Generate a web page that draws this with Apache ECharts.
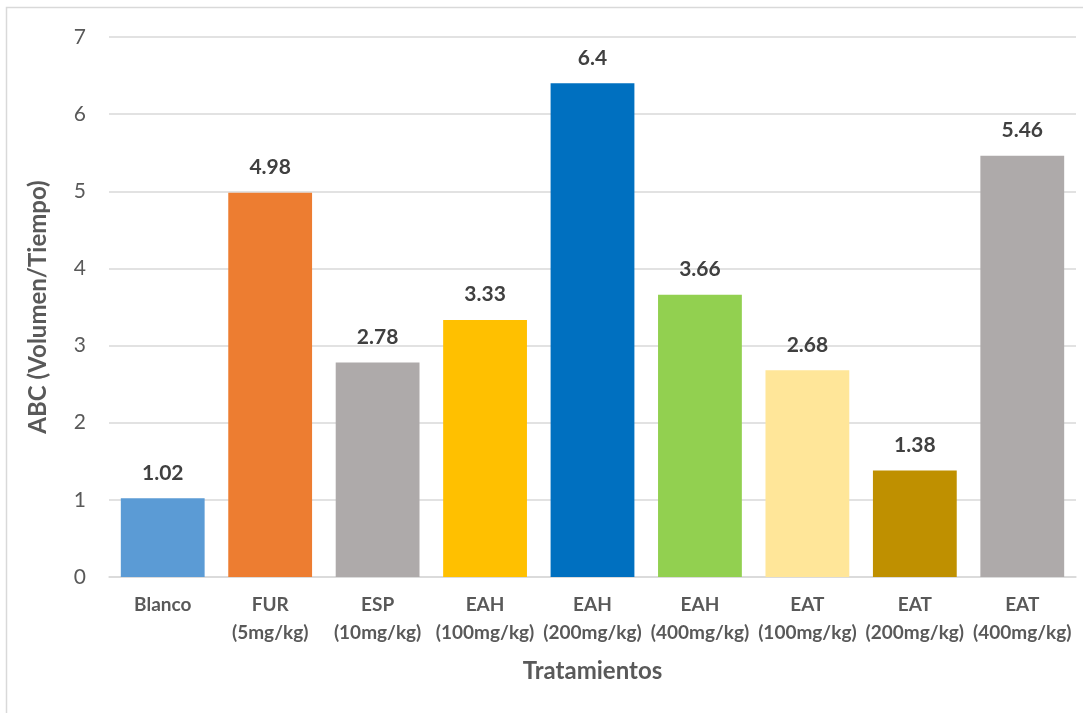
<!DOCTYPE html>
<html>
<head>
<meta charset="utf-8">
<script src="https://cdn.jsdelivr.net/npm/echarts@6/dist/echarts.min.js"></script>
<style>
  html, body { margin: 0; padding: 0; background: #fff; }
  #chart { width: 1083px; height: 713px; }
</style>
</head>
<body>
<div id="chart"></div>
<script>
// Treatments along the x axis
const categories = [
  'Blanco\n ',
  'FUR\n(5mg/kg)',
  'ESP\n(10mg/kg)',
  'EAH\n(100mg/kg)',
  'EAH\n(200mg/kg)',
  'EAH\n(400mg/kg)',
  'EAT\n(100mg/kg)',
  'EAT\n(200mg/kg)',
  'EAT\n(400mg/kg)'
];
// Area under the curve per treatment
const values = [1.02, 4.98, 2.78, 3.33, 6.4, 3.66, 2.68, 1.38, 5.46];
// Fill colour of each bar
const barColors = ['#5B9BD5', '#ED7D31', '#AEAAAA', '#FFC000', '#0070C0', '#92D050', '#FFE699', '#BF9000', '#AEAAAA'];
const yTicks = [0, 1, 2, 3, 4, 5, 6, 7];

const FONT = 'Lato, "Open Sans", sans-serif';
const chart = echarts.init(document.getElementById('chart'));

chart.setOption({
  animation: false,
  backgroundColor: '#ffffff',
  graphic: [{
    type: 'rect',
    shape: { x: 6.5, y: 7.5, width: 1100, height: 800 },
    style: { fill: 'none', stroke: '#D9D9D9', lineWidth: 1.5 },
    silent: true
  }],
  grid: { left: 109, right: 7, top: 37, bottom: 136 },
  xAxis: {
    type: 'category',
    data: categories,
    name: 'Tratamientos',
    nameLocation: 'middle',
    nameGap: 82,
    nameTextStyle: { fontFamily: FONT, fontSize: 24, fontWeight: 'bold', color: '#595959' },
    axisLine: { lineStyle: { color: '#D9D9D9', width: 1.5 } },
    axisTick: { show: false },
    axisLabel: {
      interval: 0,
      margin: 14,
      fontFamily: FONT,
      fontSize: 19,
      fontWeight: 'bold',
      color: '#595959',
      lineHeight: 28
    }
  },
  yAxis: {
    type: 'value',
    min: 0,
    max: yTicks[yTicks.length - 1],
    interval: 1,
    name: 'ABC (Volumen/Tiempo)',
    nameLocation: 'middle',
    nameGap: 59,
    nameTextStyle: { fontFamily: FONT, fontSize: 24, fontWeight: 'bold', color: '#595959' },
    axisLine: { show: false },
    axisTick: { show: false },
    axisLabel: { margin: 23, fontFamily: FONT, fontSize: 21, color: '#595959' },
    splitLine: { lineStyle: { color: '#D9D9D9', width: 1.5 } }
  },
  series: [{
    type: 'bar',
    data: values.map((v, i) => ({ value: v, itemStyle: { color: barColors[i] } })),
    barCategoryGap: '22%',
    label: {
      show: true,
      position: 'top',
      distance: 15,
      fontFamily: FONT,
      fontSize: 21,
      fontWeight: 'bold',
      color: '#404040',
      formatter: p => String(p.value)
    }
  }]
});
</script>
</body>
</html>
